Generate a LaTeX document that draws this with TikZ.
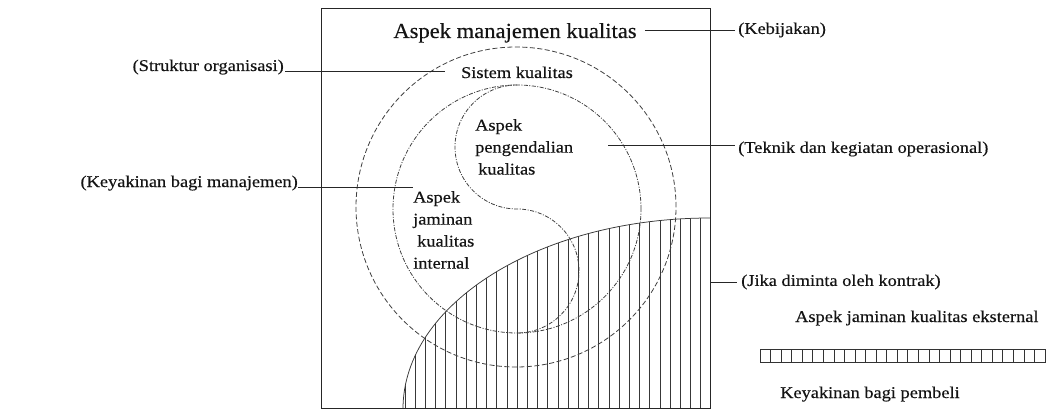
\documentclass[tikz,border=0pt]{standalone}
\usepackage{fontspec}
\usetikzlibrary{calc}
\setmainfont{Liberation Serif}[FakeStretch=1.12, FakeBold=0.35]
\newfontfamily\titlefont{Liberation Serif}[FakeStretch=1.05, FakeBold=0.35]
\begin{document}
\begin{tikzpicture}[x=1pt,y=1pt,
  lbl/.style={font=\fontsize{16.4}{22}\selectfont, text=black!92, inner sep=0pt},
  blk/.style={lbl, align=left, anchor=north west},
  lead/.style={draw=black!85, line width=0.9pt},
  outerc/.style={draw=black!75, line width=0.8pt, dash pattern=on 5pt off 2.5pt},
  innerc/.style={draw=black!75, line width=0.8pt, dash pattern=on 4pt off 1.5pt on 1pt off 1.5pt},
  hatch/.style={draw=black!78, line width=0.75pt},
  frame/.style={draw=black!85, line width=1.1pt}]
\useasboundingbox (0,0) rectangle (1063,-409);
\fill[white] (0,0) rectangle (1063,-409);

% hatched region (external quality assurance)
\begin{scope}
  \clip (710,-409) -- (403,-409) arc[start angle=180, end angle=90, x radius=307, y radius=191] -- cycle;
  \foreach \i in {0,...,29} \draw[hatch] (405+10.2*\i,-409) -- ++(0,200);
\end{scope}
\draw[hatch] (403,-409) arc[start angle=180, end angle=90, x radius=307, y radius=191];

% circles
\draw[outerc] (516,-207) circle[radius=160];
\draw[innerc] (517,-209) circle[radius=124];
\draw[innerc] (517,-85) arc[start angle=90, end angle=270, radius=62]
                        arc[start angle=90, end angle=-90, radius=62];

% frame
\node[frame, minimum width=389pt, minimum height=400pt, anchor=north west, inner sep=0pt] (box) at (321,-8) {};

% title and labels
\node[lbl, font=\titlefont\fontsize{21.5}{26}\selectfont, anchor=base, inner xsep=8pt] (title) at (515,-38) {Aspek manajemen kualitas};
\node[lbl, anchor=west, inner xsep=3pt] (keb) at (735,-30) {(Kebijakan)};
\draw[lead] (title.east |- keb.west) -- (keb.west);

\node[lbl, anchor=base east, inner xsep=1pt] (struk) at (285,-71) {(Struktur organisasi)};
\coordinate (strukend) at (445,-71);
\draw[lead] (struk.base east) -- (strukend);

\node[lbl, anchor=base] (sist) at (517,-78) {Sistem kualitas};

\node[blk] (peng) at (475,-119) {Aspek\\pengendalian\\\hspace{3pt}kualitas};

\coordinate (tekstart) at (608,-145);
\node[lbl, anchor=west, inner xsep=3pt] (tek) at (735,-149) {(Teknik dan kegiatan operasional)};
\draw[lead] (tekstart) -- (tekstart -| tek.west);

\node[lbl, anchor=base east, inner xsep=0pt] (keym) at (298,-187) {(Keyakinan bagi manajemen)};
\coordinate (keymend) at (413,-187);
\draw[lead] (keym.base east) -- (keymend);

\node[blk] (jam) at (413,-191) {Aspek\\jaminan\\\hspace{4pt}kualitas\\internal};

\node[lbl, anchor=west, inner xsep=4pt] (jika) at (737,-282) {(Jika diminta oleh kontrak)};
\draw[lead] (box.east |- jika.west) -- (jika.west);

% legend
\node[lbl, anchor=base west] (ekst) at (795,-322) {Aspek jaminan kualitas eksternal};
\node[draw=black!80, line width=0.8pt, minimum width=285pt, minimum height=13pt, inner sep=0pt, anchor=north west] (bar) at (760,-349) {};
\foreach \i in {1,...,26} \draw[black!80, line width=0.7pt] ($(bar.north west)+(10.556*\i,0)$) -- ++(0,-13);
\node[lbl, anchor=base west] (pemb) at (780,-398) {Keyakinan bagi pembeli};
\end{tikzpicture}
\end{document}
